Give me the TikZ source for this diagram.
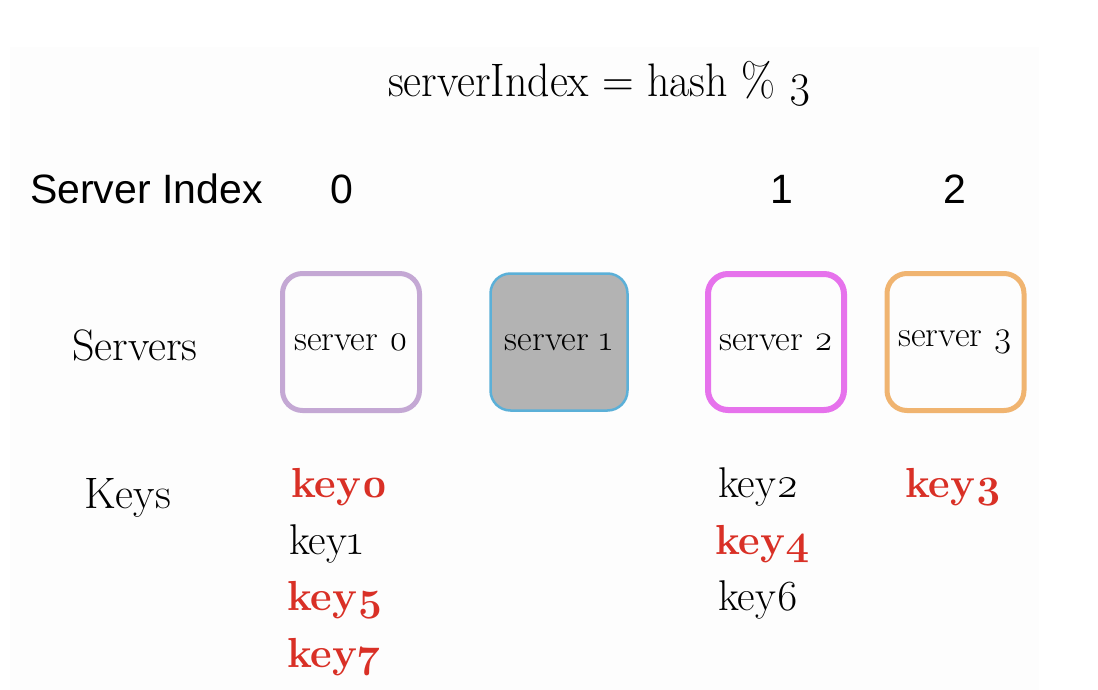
\documentclass[tikz,border=0pt]{standalone}
\usepackage{fontspec}
\setmainfont{Latin Modern Roman}[Numbers=OldStyle]
\newfontfamily\arialf{Liberation Sans}
\definecolor{panel}{RGB}{253,253,253}
\definecolor{lav}{RGB}{196,168,212}
\definecolor{skyb}{RGB}{91,176,216}
\definecolor{grayfill}{RGB}{179,179,179}
\definecolor{magb}{RGB}{230,114,236}
\definecolor{orab}{RGB}{240,180,112}
\definecolor{keyred}{RGB}{217,48,38}
\begin{document}
\begin{tikzpicture}[x=1pt,y=-1pt,
  srv/.style={rounded corners=20pt, minimum width=#1, minimum height=#1, inner sep=0pt,
    font=\fontsize{36}{40}\selectfont},
  idx/.style={anchor=base, font=\arialf\fontsize{41}{44}\selectfont},
  lbl/.style={anchor=base west, font=\fontsize{44}{48}\selectfont},
  keyn/.style={anchor=base west, font=\fontsize{43}{46}\selectfont},
  keyb/.style={anchor=base west, text=keyred, font=\bfseries\fontsize{42}{46}\selectfont}]
\useasboundingbox (0,0) rectangle (1098,690);
\fill[white] (0,0) rectangle (1098,690);
\fill[panel] (10,47) rectangle (1039,690);
% title
\node[anchor=base] (title) at (600,97) {\resizebox{424pt}{\height}{\fontsize{47}{50}\selectfont serverIndex = hash \% 3}};
% index row
\node[anchor=base west, font=\arialf\fontsize{41}{44}\selectfont, inner sep=0pt] (sidx) at (30,203) {Server Index};
\node[idx] (i0) at (342,203) {0};
\node[idx] (i1) at (782,203) {1};
\node[idx] (i2) at (955,203) {2};
% servers
\node[lbl, inner sep=0pt] (srvlbl) at (72,360) {Servers};
\node[srv=137pt, draw=lav, line width=5pt] (s0) at (351,342) {server 0};
\node[srv=137pt, draw=skyb, fill=grayfill, line width=2.5pt] (s1) at (559,342) {server 1};
\node[srv=136pt, draw=magb, line width=6pt] (s2) at (776,342) {server 2};
\node[srv=137pt, draw=orab, line width=5pt] (s3) at (955.5,342) {server 3};
% keys
\node[lbl, inner sep=0pt] (keylbl) at (84,508) {Keys};
\node[keyb, inner sep=0pt] (k0) at (291,497) {key0};
\node[keyn, inner sep=0pt] (k1) at (289,554) {key1};
\node[keyb, inner sep=0pt] (k5) at (287,610) {key5};
\node[keyb, inner sep=0pt] (k7) at (287,667) {key7};
\node[keyn, inner sep=0pt] (k2) at (718,497) {key2};
\node[keyb, inner sep=0pt] (k4) at (715,554) {key4};
\node[keyn, inner sep=0pt] (k6) at (718,610) {key6};
\node[keyb, inner sep=0pt] (k3) at (905,497) {key3};
\end{tikzpicture}
\end{document}
